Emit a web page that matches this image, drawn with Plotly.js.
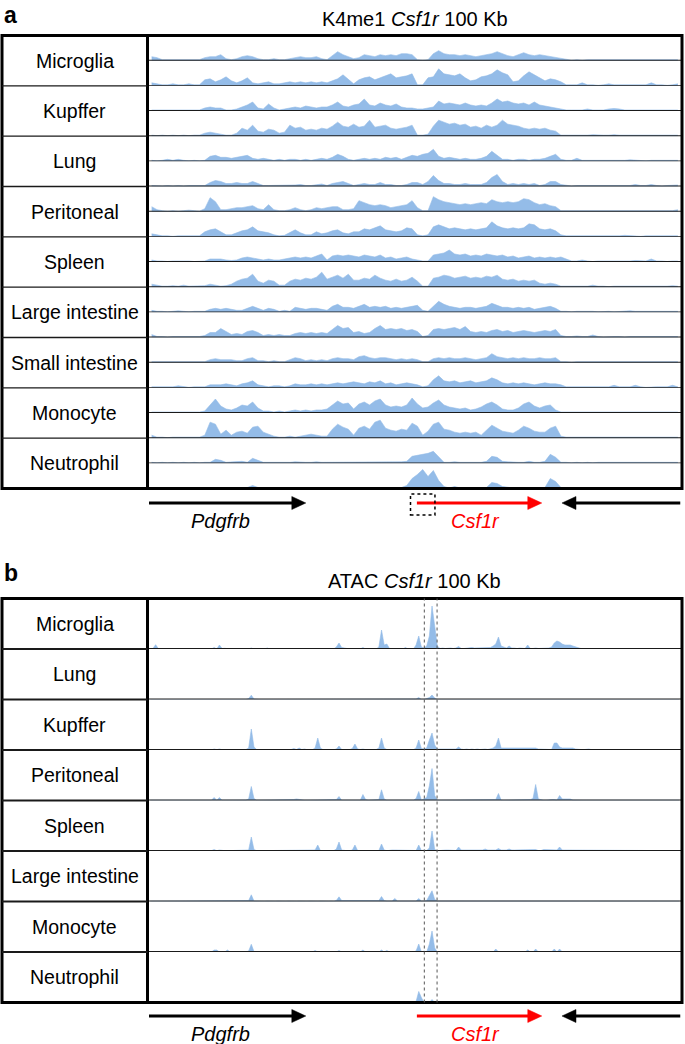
<!DOCTYPE html>
<html><head><meta charset="utf-8">
<script src="https://cdn.plot.ly/plotly-3.0.1.min.js"></script>
<style>html,body{margin:0;padding:0;background:#fff}#chart{width:685px;height:1044px}</style>
</head><body><div id="chart"></div>
<script>
// ---------------- DATA ----------------
const k4Title = 'K4me1 <i>Csf1r</i> 100 Kb';
const atacTitle = 'ATAC <i>Csf1r</i> 100 Kb';
const k4Cells = ['Microglia','Kupffer','Lung','Peritoneal','Spleen','Large intestine','Small intestine','Monocyte','Neutrophil'];
const atacCells = ['Microglia','Lung','Kupffer','Peritoneal','Spleen','Large intestine','Monocyte','Neutrophil'];
const k4BinKb = 1;     // 100 bins of 1 kb
const atacBinKb = 0.5; // 200 bins of 0.5 kb
const locusKb = [0, 100];

// K4me1 signal, two replicates per cell type (signal height units)
const k4_microglia_1 = [4,3,1,1,1,0.5,1,0.5,0.5,1, 3,4,4,6,2,1,2,4,5,4, 2,1,1,2,1,1,2,3,4,3, 3,4,2,1,5,9,6,4,2,3, 6,5,4,6,5,6,5,7,7,6, 1,0.5,1,7,10,7,6,6,5,6, 5,4,5,6,7,9,7,5,4,6, 8,6,5,6,5,4,3,2,1,0.5, 1,0.5,1,1,0.5,1,1,0.5,1,1, 0.5,1,1,0.5,1,1,0.5,1,1,1];
const k4_microglia_2 = [3,2,1,1,2,1,1,2,1,1, 6,7,4,6,9,5,3,5,8,3, 2,3,4,2,2,3,4,3,4,3, 4,3,4,3,5,7,11,6,2,6, 8,9,6,8,10,12,8,9,10,12, 1,1,8,9,17,12,11,10,12,8, 5,6,9,10,12,16,13,11,4,5, 10,14,11,8,5,7,6,4,1,1, 1,3,1,1,0.5,1,2,1,1,0.5, 1,0.5,1,1,3,1,1,0.5,1,2];
const k4_kupffer_1 = [1,1,1,0.5,1,1,0.5,1,0.5,1, 3,4,3,3,1,1,2,4,6,9, 3,2,7,3,1,2,3,4,3,5, 4,3,4,4,6,9,5,4,6,7, 12,6,5,8,6,5,7,4,3,3, 2,2,3,4,10,7,8,7,6,8, 6,5,6,5,8,12,9,10,8,7, 8,6,9,6,5,4,3,2,1,1, 1,1,2,1,1,1,2,2.5,2,1, 1,1,1,1.5,1,1,1,1,1,1];
const k4_kupffer_2 = [1,0.5,1,0.5,1,0.5,1,0.5,1,1, 3,4,3,2,1,1,3,8,6,11, 5,4,7,6,3,4,11,8,9,6, 7,6,8,7,10,14,10,9,12,9, 10,16,9,10,11,8,7,8,9,11, 1,1,2,10,16,14,12,13,11,12, 9,10,8,11,9,11,16,12,11,10, 8,7,8,7,8,6,5,1,1,1, 1,0.5,1,1.5,1,1,1,1.5,1,1, 0.5,1,1,1,1,1,0.5,1,1,1];
const k4_lung_1 = [1,0.5,1,2,1,2,1,0.5,1,0.5, 1,5,6,4,4,3,4,5,6,3, 2,3,2,1,2,1,2,2,1,2, 1,2,3,2,4,7,5,2,1,2, 3,2,3,2,4,3,4,2,4,6, 5,7,8,12,5,3,4,3,2,3, 2,2,3,5,10,6,2,2,1,2, 2,1,2,2,3,5,7,2,1,1, 3,1,1,0.5,1,1,1,0.5,1,1, 1.5,1,1,0.5,1,1,0.5,1,1,1];
const k4_lung_2 = [1,0.5,0.5,1,0.5,1,0.5,1,1,1.5, 1,4,6,5,3,3,4,3,3,5, 3,1,1,1,1.5,1,1,1.5,2,1, 1,1.5,2.5,1,3,4,5,3,1,2, 3,2,2,4,2,2,1,1,2,4, 4,2,5,11,6,3,3,2,2,3, 2,2,2,4,9,12,5,2,3,2, 3,2,3,1,2,5,5,2,1,0.5, 1,1,0.5,1,1,0.5,1,1,1,0.5, 1,2,1,1,2,1,0.5,1,1,1.5];
const k4_peritoneal_1 = [5,2,1,0.5,1,0.5,1,1.5,1,0.5, 3,14,10,2,2,3,4,4,5,6, 3,2,7,2,1,1,2,4,2,1, 2,4,3,4,5,5,2,2,3,11, 9,7,6,7,6,4,5,6,7,11, 4,1,1,15,12,10,9,8,7,8, 7,8,9,8,12,10,9,10,9,10, 13,12,9,7,8,6,5,1,1,0.5, 1,0.5,1,0.5,1,1,0.5,1,1,0.5, 1,1,0.5,1,1,0.5,1,1,1,2];
const k4_peritoneal_2 = [3,2,1,1,0.5,1,1,0.5,1,1, 5,7,8,5,2,2,4,6,7,10, 6,5,4,2,1,1.5,4,7,4,2, 2,5,3,4,6,7,4,3,5,5, 8,7,9,11,7,6,5,6,9,8, 2,1,2,10,12,10,8,9,8,7, 8,7,8,9,15,11,9,8,9,8, 9,13,12,8,7,8,6,2,1,1, 0.5,1,1,0.5,1,1,1,0.5,1,1.5, 1,1,0.5,1,1,1,0.5,1,1,1];
const k4_spleen_1 = [2,1,1,0.5,1,1,1.5,1,0.5,1, 1,3,3,3,2,1.5,2,4,5,4, 3,2,3,2,2,3,4,5,4,5, 4,6,8,2,6,7,6,7,6,5, 7,6,5,7,4,5,3,4,5,3, 2,1,1,7,8,9,12,8,7,8, 6,7,6,8,7,6,7,5,6,4, 5,6,4,5,4,5,4,5,3,1, 1,2,1,0.5,1,1,0.5,1,1,1, 1,1.5,1,1,3,1,1,0.5,1,1];
const k4_spleen_2 = [3,2,1,1,1.5,1,2,1,1,1, 1.5,3,2,1,1.5,3,6,8,9,13, 6,4,7,6,2,2,6,8,7,9, 8,10,15,8,10,12,9,13,7,7, 9,8,12,9,7,6,8,6,7,10, 6,1,1,9,10,12,11,9,10,11, 9,10,9,11,10,12,8,7,8,6, 7,6,7,4,3,4,3,1,1,1, 1,1,1,2,1,1,0.5,1,1,1, 1,0.5,1,1,1,1,0.5,1,1.5,1];
const k4_largeint_1 = [2,1,1,0.5,1,1.5,1,0.5,1,1, 1,3,4,3,4,3,2,2,4,6, 4,2,4,3,1,2,1,5,4,3, 4,4,3,2,6,8,5,5,4,6, 8,5,6,5,6,4,5,4,5,6, 7,2,1,6,11,8,6,5,4,5, 5,4,5,6,9,7,5,5,4,5, 4,5,3,4,5,6,4,1,1,0.5, 1,1,1.5,1,0.5,1,1,0.5,1,1, 1.5,1,1,0.5,1,1,1,0.5,1,1];
const k4_largeint_2 = [3,1,1,0.5,1,1,0.5,1,1,1, 2,5,5,9,6,3,4,3,6,7, 5,2,3,2,3,2,2,4,5,4, 5,4,5,4,8,12,9,10,5,6, 4,5,9,12,8,9,8,9,7,8, 6,1,2,8,9,8,9,10,8,11, 6,5,6,5,7,8,6,7,5,6, 7,6,5,6,7,6,8,2,1,1, 1.5,1,1,2.5,1,0.5,1,1,1,0.5, 1,1,1,0.5,1,1,1,0.5,1,1];
const k4_smallint_1 = [1,1,0.5,1,0.5,1,1,0.5,1,1, 1,3,4,3,3,3,2,2,4,5, 2,2,1,2,1,1,3,5,4,2, 3,2,3,2,4,5,4,4,3,6, 7,5,4,5,5,4,3,4,3,4, 3,1,1,4,5,4,5,4,4,5, 4,3,4,5,9,6,5,4,5,4, 5,4,4,5,4,4,5,1,1,0.5, 1,1,1,0.5,1,1,0.5,1,1,1, 0.5,1,1,1,1,0.5,1,1,1,1];
const k4_smallint_2 = [1,1,0.5,1,1,2,1,0.5,1,1, 1,3,3,3,4,3,2,4,5,7, 3,2,1,2,2,1,2,4,3,3, 4,3,4,3,4,5,4,5,6,5, 4,6,5,7,4,5,3,4,5,4, 3,1,2,8,12,7,6,7,5,6, 7,5,6,7,10,8,5,4,5,4, 5,4,3,4,5,4,4,3,1,1, 1,0.5,1,1,1,0.5,1,2.5,1,1, 1,2.5,1,0.5,1,1,1,1,2.5,1];
const k4_monocyte_1 = [1,1,0.5,1,1,0.5,1,1,1,1, 2,8,14,7,4,3,5,8,7,11, 5,2,2,1,2,1,2,3,2,3, 2,3,3,4,8,12,9,10,4,9, 11,8,12,14,8,6,7,6,8,15, 9,5,6,10,13,8,6,5,4,5, 3,4,6,9,11,8,4,3,3,5, 9,11,7,5,7,8,3,1,1,0.5, 1,1,0.5,1,1,1,0.5,1,1,0.5, 1,1,0.5,1,1,0.5,1,1,1,1];
const k4_monocyte_2 = [3,1,1,0.5,1,1,0.5,1,1,1, 3,16,14,4,8,3,6,7,5,11, 12,6,4,2,1,1,2,1,2,3, 4,3,2,2,9,14,11,9,3,10, 12,9,16,18,10,8,7,9,8,15, 12,3,7,14,16,9,8,6,5,6, 5,6,3,8,13,10,7,6,5,8, 12,10,7,6,6,10,12,2,1,1, 1,1,0.5,1,1,0.5,1,1,1,0.5, 1,1,1,0.5,1,1,1,0.5,1,1];
const k4_neutrophil_1 = [1,0.5,1,0.5,1,0.5,1,0.5,1,0.5, 1,1,4,3,1,1.5,2,2,1,5, 3,1,1,1,0.5,1,1,1.5,1,1, 1,1.5,1,1,1.5,1,1,1,1.5,1, 1,1.5,1,1,1.5,1,1,1.5,2,7, 8,9,10,12,6,1,1,1.5,1,1, 1,1.5,1,2,7,6,2,1.5,1,1, 1,2,1,1,2,9,6,1,1,0.5, 1,0.5,1,0.5,1,1,0.5,1,0.5,1, 1,0.5,1,1,0.5,1,1,0.5,1,1];
const k4_neutrophil_2 = [0.5,0.5,0.5,0.5,1,0.5,0.5,0.5,0.5,0.5, 0.5,0.5,1,0.5,0.5,0.5,1,0.5,1,3, 1,0.5,0.5,0.5,0.5,1,0.5,0.5,0.5,1, 0.5,0.5,0.5,1,0.5,0.5,0.5,1,0.5,0.5, 0.5,1,0.5,0.5,0.5,0.5,1,1,3,10, 14,19,12,18,8,2,0.5,2,0.5,0.5, 0.5,1,0.5,1,6,5,2,1,0.5,0.5, 0.5,1,0.5,0.5,1,10,7,1,0.5,0.5, 0.5,0.5,0.5,1,0.5,0.5,0.5,0.5,0.5,0.5, 0.5,0.5,0.5,0.5,0.5,0.5,0.5,0.5,0.5,0.5];

// ATAC signal, one track per cell type (0.5 kb bins)
const atac_microglia = [0,0.5,4.3,0.5,0,0,0,0,0,0, 0,0,0,0,0,0,0,0,0,0, 0,0,0,0,1.5,0,4,0.5,0.7,0, 0,0,0,0,0.5,0,0,0,1,0, 0,0,0,0,1,0,0,0,0,0, 0,0,0,0,0,0,0.3,0,0,0, 0.3,0,0,0,0,0,0,0,0,0, 2,6,1.5,1,0,0,0,0,0,0, 1.5,0,0,0,0,0,2,19,4,5, 0.5,0,0,0,0,0,1.5,0,0,0, 4,13,2,1,3,13,43,20,3,0.5, 1,0.5,1,1,0.5,1,2.5,0.5,0.5,1, 1,1.5,1,1,1.5,1,1,1.5,1.5,3, 5,12,3,2,1,3,1,1,0.5,1, 1,0.5,4,0.5,0.5,1,0.5,0.5,0.5,0.5, 1,2,6,8,7,5,4,4,4,3, 2,1,0.5,0.3,0,0,0,0,0,0, 0,0,0,0,0,0,0,0,0,0, 0,0,0,0,0,0,0,0,0,0, 0,0,0,0,0,0,0,0,0,0];
const atac_lung = [0,0,0,0,0,0,0,0,0,0, 0,0,0,0,0,0,0,0,0,0, 0,0,0,0,0.3,0,0,0,0,0, 0,0,0,0,0,0,0,1,4.3,0.5, 0,0,0,0,0,0,0,0,0,0, 0,0,0,0,0,0,0,0,0,0, 0,0,0,0,0,0,0,0,0,0, 0,0.3,0,0,0,0,0,0,0,0, 0,0,0,0,0,0,0,0,0,0, 0,0,0,0,0,0,0,0,0,0, 0.5,2,0,0,1,2,4.5,1.5,0,0, 0,0,0,0,0,0,0,0,0,0, 0,0,0,0,0,0,0,0,0,0, 0,0.3,0,0,0,0,0,0,0,0, 0,0,0,0,0,0,0,0,0,0, 0,0,0,0.3,0,0,0,0,0,0, 0,0,0,0,0,0,0,0,0,0, 0,0,0,0,0,0,0,0,0,0, 0,0,0,0,0,0,0,0,0,0, 0,0,0,0,0,0,0,0,0,0];
const atac_kupffer = [0,0.3,0.5,0.3,0.5,0,0.3,0.5,0.3,0, 0.3,0.5,0,0.3,0.5,0.3,0,0.5,0.3,0, 0.3,0.5,0.3,0,1,0.3,1,0.3,0,0.3, 0.5,0.3,0.5,0.5,0.3,0.5,0.5,2,21,3, 0.5,0.3,0.5,0.3,0.5,0.5,0.3,0.5,0.3,0.5, 0.5,0.3,0.5,0.5,1.5,0.5,2,0.5,1,0.3, 0.5,0.3,2,12,2,0.3,0.5,0.3,0.5,0.3, 1,4,0.5,0.3,0.5,0.3,1.5,6,1,0.5, 1,0.3,0.5,0.3,0.5,0.5,2,12,2,0.5, 0.3,0.5,0.3,1,0.5,0.3,0.5,1,0.5,0.3, 2,10,1.5,1,2,10,17,5,1,1, 1,1,0.5,1,1,1,3,1,0.5,1, 0.5,1,0.5,1,0.5,1,1,0.5,1,2, 4,12,2,2,2,2,1.5,1.5,1.5,1.5, 1.5,1.5,1.5,1.5,1.5,2,1,1,1,1, 1,0.5,7,7,3,2,2,2,2,2, 1,0.5,0.5,0.3,1,1,0.3,0.3,0.3,0.3, 0.3,0.3,0.3,0.3,0.3,0.5,0.3,0.3,0.3,0.3, 0.3,0.3,0.3,0.3,0.3,0.3,0.3,0.3,0.3,0.3, 0.3,0.3,0.5,0.3,0.3,0.3,0.3,0.3,0.3,0.3];
const atac_peritoneal = [0.3,0.3,0.3,0.3,0.3,0.3,0.3,0.3,0.3,0.3, 0.3,0.3,0.3,0.3,0.3,0.3,0.3,0.3,0.3,0.3, 0.3,0.3,0.3,0.3,3,0.3,3,0.3,0.3,0.3, 0.3,0.3,0.3,0.3,0.3,0.5,0.5,1.5,14,2, 0.3,0.3,0.3,0.3,0.3,0.3,0.3,0.3,0.3,0.3, 0.3,0.3,0.3,0.3,1,1.5,1,0.3,0.3,0.3, 0.3,0.3,0.3,0.3,0.3,0.3,0.3,0.3,0.3,0.3, 1,4,0.3,0.3,0.3,0.3,0.3,0.3,0.3,0.3, 6,1,0.3,0.3,0.3,0.3,1,10.7,1.5,0.3, 0.3,0.3,0.3,0.3,0.3,0.3,0.3,0.3,0.3,0.3, 2,9,0.5,1.5,3,14.7,32,5,0.5,0.3, 0.3,0.3,0.3,0.3,0.3,0.3,0.3,0.3,0.3,0.3, 0.5,0.5,0.5,0.5,0.5,0.5,0.5,0.3,0.3,0.3, 1,7,0.5,0.3,0.3,0.3,0.3,0.3,0.3,0.3, 1,1,1,1,2,16,1.5,0.5,0.3,0.3, 1,1,1,0.5,5,1.5,1.5,1.5,1.5,0.5, 0.3,0.3,0.3,0.3,0.3,0.3,0.3,0.3,0.3,0.3, 0.3,0.3,0.3,0.3,0.3,0.3,0.3,0.3,0.3,0.3, 0.3,0.3,0.3,0.3,0.3,0.3,0.3,0.3,0.3,0.3, 0.3,0.3,0.3,0.3,0.3,0.3,0.3,0.3,0.3,0.3];
const atac_spleen = [0.3,0.3,0.3,0.3,0.3,0.3,0.3,0.3,0.3,0.3, 0.3,0.3,0.3,0.3,0.3,0.3,0.3,0.3,0.3,0.3, 0.3,0.3,0.3,0.3,1.5,0.3,1,0.3,0.3,0.3, 0.3,0.3,1,1,1,1,1,1,14,1.5, 0.3,0.3,0.3,0.3,0.3,1,0.3,0.3,0.3,0.3, 0.5,0.3,0.3,0.3,0.3,0.3,1,0.3,0.3,0.3, 0.3,0.3,1,6,0.5,0.3,0.3,0.3,0.3,0.3, 2,9,1,0.3,0.3,0.3,1,6,0.5,0.3, 0.3,0.3,0.3,0.3,0.3,0.3,0.5,7,1,0.3, 1,1,1,1,1,1,1,1,1,0.5, 0.5,6,0.5,1,0.5,3,20,1.5,0.5,0.5, 1,1,1,1,1,0.5,4,1,1,1, 1,1,1,1,1,1,2,1,1,1, 1,2.5,1,1,1,2,1,1,1,1, 1,1,1,1,1,1.5,0.5,0.5,1.5,1.5, 1.5,1.5,1.5,1,4,1,1,1,1,1, 1,0.5,0.3,0.3,0.3,0.3,0.3,0.3,0.3,0.3, 0.3,0.3,0.3,0.3,0.3,0.3,0.3,0.3,0.3,0.3, 1,0.3,0.3,0.3,0.3,0.3,0.3,0.3,0.3,0.5, 0.3,0.3,0.3,0.3,0.3,0.3,0.3,0.3,0.3,0.3];
const atac_largeint = [0.3,0.3,0.3,0.3,0.3,0.3,0.3,0.3,0.3,0.3, 0.3,0.3,0.3,0.3,0.3,0.3,0.3,0.3,0.3,0.3, 0.3,0.3,0.3,0.3,1,0.3,1,0.3,0.3,0.3, 0.3,0.3,0.3,0.3,0.3,0.3,0.3,1,6.7,0.5, 0.5,0.3,0.5,0.3,0.5,0.3,0.5,0.3,0.5,0.3, 0.5,0.3,0.5,0.3,0.5,0.3,0.5,0.3,0.5,0.3, 0.5,0.3,0.5,0.3,0.5,0.3,0.5,0.3,0.5,0.3, 1,4.7,1,1,1,1,1,1,1,1, 1,1,1,1,1,1,1,5,1,0.5, 0.5,0.5,3,0.5,0.5,0.5,0.5,0.5,0.5,0.5, 0.5,3,0.5,0.5,1,6,10.7,2,0.5,0.5, 0.5,0.5,0.5,0.5,0.5,0.5,0.5,0.5,0.5,0.5, 0.5,0.5,0.5,0.5,0.5,0.5,0.5,0.5,0.5,0.5, 1,0.5,0.3,0.3,0.3,0.3,0.3,0.3,0.3,0.3, 0.3,0.3,0.3,0.3,0.3,0.3,0.3,0.3,0.3,0.3, 0.3,0.3,1,0.3,0.3,0.3,0.3,0.3,0.3,0.3, 0.3,0.3,0.3,0.3,0.3,0.3,0.3,0.3,0.3,0.3, 0.3,0.3,0.3,0.3,0.3,0.3,0.5,0.3,0.3,0.3, 0.3,0.3,0.3,0.3,0.3,0.3,0.3,0.3,0.3,0.3, 0.3,0.3,0.3,0.3,0.3,0.3,0.3,0.3,0.3,0.3];
const atac_monocyte = [0,0,0,0,0,0,0,0,0,0, 0,0,0,0,0,0,0,0,0,0, 0,0,0,0,2,2,0,0,0,2, 0,0,0,0,0,0,0,1,7.7,0.5, 0,0,0,0,0,0,0,0,0,0, 0,0,0,0,0,0,0,0,0,0, 0,0,1.5,0,0,0,0,0,0,0, 0,1.5,0,0,0,0,0,0,0,0, 2,0,0,0,0,0,0,2,0,1.5, 0,0,0,0,0,0,0,0,0,0, 1,8,0,1,0,8,21,4,0,0, 0,0,0,0,0,0,0,0,0,0, 0,0,0,0,0,0,0,0,0,0, 3,0,0,0,0,0,0,0,0,0, 0,0,2,0,0,3,0,0,0,0, 0,0,3,0,3,0,0,0,0,0, 0,0,0,0,0,0,0,0,0,0, 0,0,0,0,0,0,0,0,0,0, 0,0,0,0,0,0,0,0,0,0, 0,0,0,0,0,0,0,0,0,0];
const atac_neutrophil = [0,0,0,0,0,0,0,0,0,0, 0,0,0,0,0,0,0,0,0,0, 0,0,0,0,0,0,0,0,0,0, 0,0,0,0,0,0,0,0,0,0, 0,0,0,0,0,0,0,0,0,0, 0,0,0,0,0,0,0,0,0,0, 0,0,0,0,0,0,0,0,0,0, 0,0,0,0,0,0,0,0,0,0, 0,0,0,0,0,0,0,0,0,0, 0,0,0,0,0,0,0,0,0,0, 1,11,5,0,0,0,3,0,0,0, 0,0,0,0,0,0,0,0,0,0, 0,0,0,0,0,0,0,0,0,0, 0,0,0,0,0,0,0,0,0,0, 0,0,0,0,0,0,0,0,0,0, 0,0,1,0,0,0,0,0,0,0, 0,0,0,0,0,0,0,0,0,0, 0,0,0,0,0,0,0,0,0,0, 0,0,0,0,0,0,0,0,0,0, 0,0,0,0,0,0,0,0,0,0];

// Gene annotation (kb within the 100 kb window)
const geneNames  = ['Pdgfrb', 'Csf1r', ''];
const geneStart  = [0, 50.4, 77.7];
const geneEnd    = [29.5, 73.9, 100];
const geneStrand = ['+', '+', '-'];
const geneColors = ['#000000', '#ff0000', '#000000'];
const geneLabelKb = [13.4, 61.5, null];
const k4BoxKb = [49.2, 53.8];          // dotted box around Csf1r promoter (panel a)
const atacMarkKb = [51.8, 54.2];       // dotted vertical guides (panel b)

const k4Tracks = [k4_microglia_1,k4_microglia_2,k4_kupffer_1,k4_kupffer_2,k4_lung_1,k4_lung_2,k4_peritoneal_1,k4_peritoneal_2,k4_spleen_1,k4_spleen_2,k4_largeint_1,k4_largeint_2,k4_smallint_1,k4_smallint_2,k4_monocyte_1,k4_monocyte_2,k4_neutrophil_1,k4_neutrophil_2];
const atacTracks = [atac_microglia,atac_lung,atac_kupffer,atac_peritoneal,atac_spleen,atac_largeint,atac_monocyte,atac_neutrophil];

// ---------------- LAYOUT ----------------
const W = 685, H = 1044;
const px = v => v / W;
const py = v => 1 - v / H;
const FONT = '"Liberation Sans", Arial, Helvetica, sans-serif';
const FILL = 'rgb(148,188,232)';
const A = {left: 2, right: 682, divider: 147.5, top: 35.5, bottom: 488.5, arrowY: 503, labelY: 521};
const B = {left: 2, right: 682, divider: 147.5, top: 598.5, bottom: 1002.5, arrowY: 1016, labelY: 1034};
const trackX0 = 149, trackX1 = 680.5;

const rowHA = (A.bottom - A.top) / k4Cells.length;
const trackHA = rowHA / 2;
const rowHB = (B.bottom - B.top) / atacCells.length;

const traces = [];
const layout = {
  width: W, height: H, margin: {l:0, r:0, t:0, b:0},
  paper_bgcolor: '#fff', plot_bgcolor: 'rgba(0,0,0,0)', showlegend: false,
  font: {family: FONT, color: '#000'},
  xaxis: {domain: [px(trackX0), px(trackX1)], range: locusKb, visible: false, fixedrange: true, anchor: 'y'},
  xaxis2: {domain: [px(trackX0), px(trackX1)], range: locusKb, visible: false, fixedrange: true, anchor: 'y19'},
  shapes: [], annotations: []
};
const yName = n => n === 1 ? 'y' : 'y' + n;
const yKey = n => n === 1 ? 'yaxis' : 'yaxis' + n;

k4Tracks.forEach((vals, t) => {
  const n = t + 1;
  const top = A.top + t * trackHA, bot = top + trackHA;
  layout[yKey(n)] = {domain: [py(bot), py(top)], range: [0, trackHA], visible: false, fixedrange: true, anchor: 'x'};
  traces.push({type: 'scatter', mode: 'lines', xaxis: 'x', yaxis: yName(n),
    x: vals.map((_, i) => (i + 0.5) * k4BinKb), y: vals,
    fill: 'tozeroy', fillcolor: FILL, line: {color: FILL, width: 0.6}, hoverinfo: 'skip'});
  layout.shapes.push({type: 'line', xref: 'paper', yref: yName(n), x0: px(A.divider), x1: px(A.right), y0: 0, y1: 0, line: {color: '#1a1a1a', width: 1.8}, layer: 'above'});
});
atacTracks.forEach((vals, t) => {
  const n = 19 + t;
  const top = B.top + t * rowHB, bot = top + rowHB;
  layout[yKey(n)] = {domain: [py(bot), py(top)], range: [0, rowHB], visible: false, fixedrange: true, anchor: 'x2'};
  traces.push({type: 'scatter', mode: 'lines', xaxis: 'x2', yaxis: yName(n),
    x: vals.map((_, i) => (i + 0.5) * atacBinKb), y: vals,
    fill: 'tozeroy', fillcolor: FILL, line: {color: FILL, width: 0.6}, hoverinfo: 'skip'});
  layout.shapes.push({type: 'line', xref: 'paper', yref: yName(n), x0: px(B.divider), x1: px(B.right), y0: 0, y1: 0, line: {color: '#1a1a1a', width: 2}, layer: 'above'});
});

function panelFrame(P, cells, rowH, lw) {
  layout.shapes.push({type: 'rect', xref: 'paper', yref: 'paper', x0: px(P.left), x1: px(P.right), y0: py(P.bottom), y1: py(P.top), line: {color: '#000', width: 3}, layer: 'above'});
  layout.shapes.push({type: 'line', xref: 'paper', yref: 'paper', x0: px(P.divider), x1: px(P.divider), y0: py(P.bottom), y1: py(P.top), line: {color: '#000', width: 3}, layer: 'above'});
  cells.forEach((c, k) => {
    if (k > 0) {
      const y = P.top + k * rowH;
      layout.shapes.push({type: 'line', xref: 'paper', yref: 'paper', x0: px(P.left), x1: px(P.divider), y0: py(y), y1: py(y), line: {color: '#1a1a1a', width: lw}, layer: 'above'});
    }
    layout.annotations.push({xref: 'paper', yref: 'paper', x: px((P.left + P.divider) / 2), y: py(P.top + (k + 0.5) * rowH),
      text: c, showarrow: false, xanchor: 'center', yanchor: 'middle', font: {size: 19.5, family: FONT, color: '#000'}});
  });
}
panelFrame(A, k4Cells, rowHA, 1.3);
panelFrame(B, atacCells, rowHB, 2);

function genes(P, xref) {
  const headKb = 14 / ((trackX1 - trackX0) / 100);
  const hh = 6.5 / H;
  const yc = py(P.arrowY);
  geneNames.forEach((g, i) => {
    const s = geneStart[i], e = geneEnd[i], col = geneColors[i];
    if (geneStrand[i] === '+') {
      layout.shapes.push({type: 'line', xref, yref: 'paper', x0: s, x1: e - headKb * 0.8, y0: yc, y1: yc, line: {color: col, width: 3}});
      layout.shapes.push({type: 'path', xref, yref: 'paper', path: `M ${e - headKb},${yc + hh} L ${e},${yc} L ${e - headKb},${yc - hh} Z`, fillcolor: col, line: {color: col, width: 0.5}});
    } else {
      layout.shapes.push({type: 'line', xref, yref: 'paper', x0: s + headKb * 0.8, x1: e, y0: yc, y1: yc, line: {color: col, width: 3}});
      layout.shapes.push({type: 'path', xref, yref: 'paper', path: `M ${s + headKb},${yc + hh} L ${s},${yc} L ${s + headKb},${yc - hh} Z`, fillcolor: col, line: {color: col, width: 0.5}});
    }
    if (g) layout.annotations.push({xref, yref: 'paper', x: geneLabelKb[i], y: py(P.labelY), text: '<i>' + g + '</i>', showarrow: false,
      xanchor: 'center', yanchor: 'middle', font: {size: 20, family: FONT, color: col}});
  });
}
genes(A, 'x');
genes(B, 'x2');

layout.shapes.push({type: 'rect', xref: 'x', yref: 'paper', x0: k4BoxKb[0], x1: k4BoxKb[1], y0: py(515), y1: py(494), line: {color: '#000', width: 1.5, dash: 'dot'}});
atacMarkKb.forEach(k => layout.shapes.push({type: 'line', xref: 'x2', yref: 'paper', x0: k, x1: k, y0: py(B.bottom), y1: py(B.top), line: {color: '#555', width: 1, dash: 'dot'}, layer: 'above'}));

layout.annotations.push({xref: 'paper', yref: 'paper', x: px(2), y: py(0), text: '<b>a</b>', showarrow: false, xanchor: 'left', yanchor: 'top', font: {size: 23, family: FONT}});
layout.annotations.push({xref: 'paper', yref: 'paper', x: px(2), y: py(573), text: '<b>b</b>', showarrow: false, xanchor: 'left', yanchor: 'middle', font: {size: 23, family: FONT}});
layout.annotations.push({xref: 'paper', yref: 'paper', x: px(415), y: py(19), text: k4Title, showarrow: false, xanchor: 'center', yanchor: 'middle', font: {size: 20, family: FONT}});
layout.annotations.push({xref: 'paper', yref: 'paper', x: px(414), y: py(581), text: atacTitle, showarrow: false, xanchor: 'center', yanchor: 'middle', font: {size: 20, family: FONT}});

Plotly.newPlot('chart', traces, layout, {staticPlot: true, displayModeBar: false});
</script></body></html>
